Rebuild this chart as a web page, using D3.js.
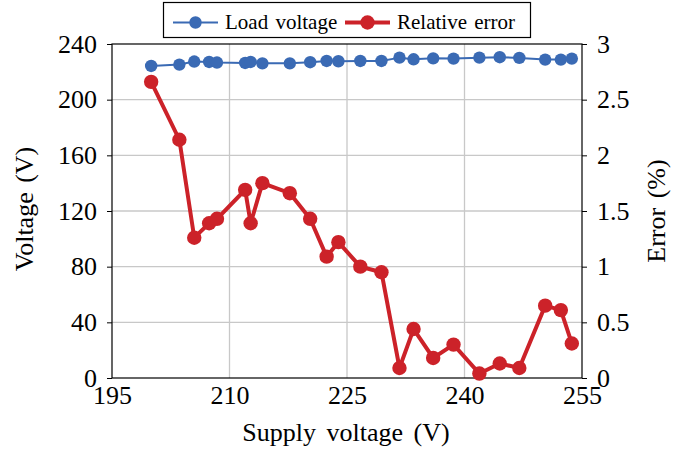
<!DOCTYPE html>
<html><head><meta charset="utf-8">
<script src="https://cdn.jsdelivr.net/npm/d3@7"></script>
</head><body style="margin:0"><svg id="c" width="691" height="453" font-family="Liberation Serif"></svg>
<script>
const supply = [200.0,203.6,205.5,207.4,208.4,212.0,212.7,214.2,217.7,220.3,222.4,223.9,226.7,229.4,231.7,233.5,236.0,238.6,241.9,244.5,247.0,250.3,252.3,253.7];
const loadVoltage = [224.2,225.2,227.4,227.1,226.7,226.4,227.1,226.1,226.1,226.9,227.8,227.6,227.8,227.8,230.2,229.0,229.7,229.5,230.2,230.5,230.0,228.8,228.8,229.5];
const relError = [2.66,2.14,1.26,1.39,1.43,1.69,1.39,1.75,1.66,1.43,1.09,1.22,1.00,0.95,0.09,0.44,0.18,0.30,0.04,0.13,0.09,0.65,0.61,0.31];
const xTicks = [195,210,225,240,255];
const yLeftTicks = [0,40,80,120,160,200,240];
const yRightTicks = [0,0.5,1,1.5,2,2.5,3];
const seriesNames = ["Load voltage","Relative error"];
const colors = ["#3a6ab4","#cc2229"];
const FONT = "Liberation Serif";

const svg = d3.select("#c");
const L=112, R=582, T=44, B=378;
const x = d3.scaleLinear().domain([195,255]).range([L,R]);
const yL = d3.scaleLinear().domain([0,240]).range([B,T]);
const yR = d3.scaleLinear().domain([0,3]).range([B,T]);

// grid
const g = svg.append("g");
g.selectAll(".vg").data(xTicks.slice(1,-1)).enter().append("line")
 .attr("x1",d=>x(d)).attr("x2",d=>x(d)).attr("y1",T).attr("y2",B)
 .attr("stroke","#c8c8c8").attr("stroke-width",1.3);
g.selectAll(".hg").data(yLeftTicks.slice(1,-1)).enter().append("line")
 .attr("x1",L).attr("x2",R).attr("y1",d=>yL(d)).attr("y2",d=>yL(d))
 .attr("stroke","#c8c8c8").attr("stroke-width",1.3);

// axes
const fs = 26;
const ax = svg.append("g").attr("transform",`translate(0,${B})`)
 .call(d3.axisBottom(x).tickValues(xTicks).tickSize(0).tickPadding(8));
const ayl = svg.append("g").attr("transform",`translate(${L},0)`)
 .call(d3.axisLeft(yL).tickValues(yLeftTicks).tickSize(5).tickPadding(10));
const ayr = svg.append("g").attr("transform",`translate(${R},0)`)
 .call(d3.axisRight(yR).tickValues(yRightTicks).tickFormat(d3.format("")).tickSize(5).tickPadding(10));
[ax,ayl,ayr].forEach(a=>{
  a.attr("font-family",FONT).attr("font-size",fs);
  a.select(".domain").remove();
  a.selectAll("text").attr("fill","#000");
  a.selectAll("line").attr("stroke","#000");
});
// frame
svg.append("rect").attr("x",L).attr("y",T).attr("width",R-L).attr("height",B-T)
 .attr("fill","none").attr("stroke","#000").attr("stroke-width",1.2);

// axis titles
svg.append("text").attr("x",346).attr("y",441).attr("text-anchor","middle").attr("font-family",FONT).attr("font-size",fs).attr("word-spacing",4).text("Supply voltage (V)");
svg.append("text").attr("transform","translate(33,209) rotate(-90)").attr("text-anchor","middle").attr("font-family",FONT).attr("font-size",fs).attr("word-spacing",3).text("Voltage (V)");
svg.append("text").attr("transform","translate(665,211) rotate(-90)").attr("text-anchor","middle").attr("font-family",FONT).attr("font-size",fs).attr("word-spacing",3).text("Error (%)");

// series
const blue = supply.map((s,i)=>[s,loadVoltage[i]]);
const red = supply.map((s,i)=>[s,relError[i]]);
svg.append("path").datum(blue).attr("fill","none").attr("stroke",colors[0]).attr("stroke-width",2)
 .attr("d",d3.line().x(d=>x(d[0])).y(d=>yL(d[1])));
svg.selectAll(".bp").data(blue).enter().append("circle")
 .attr("cx",d=>x(d[0])).attr("cy",d=>yL(d[1])).attr("r",6.2).attr("fill",colors[0]);
svg.append("path").datum(red).attr("fill","none").attr("stroke",colors[1]).attr("stroke-width",4)
 .attr("d",d3.line().x(d=>x(d[0])).y(d=>yR(d[1])));
svg.selectAll(".rp").data(red).enter().append("circle")
 .attr("cx",d=>x(d[0])).attr("cy",d=>yR(d[1])).attr("r",7.2).attr("fill",colors[1]);

// legend
const lg = svg.append("g");
lg.append("rect").attr("x",163.5).attr("y",2.5).attr("width",367).attr("height",35).attr("fill","#fff").attr("stroke","#000").attr("stroke-width",1.2);
const items = [{x0:173,tx:225,w:2,r:6.2},{x0:345,tx:397,w:4,r:7.2}];
items.forEach((it,i)=>{
  lg.append("line").attr("x1",it.x0).attr("x2",it.x0+45).attr("y1",22.5).attr("y2",22.5).attr("stroke",colors[i]).attr("stroke-width",it.w);
  lg.append("circle").attr("cx",it.x0+22.5).attr("cy",22.5).attr("r",it.r).attr("fill",colors[i]);
  lg.append("text").attr("x",it.tx).attr("y",29).attr("font-family",FONT).attr("font-size",21).attr("word-spacing",2).text(seriesNames[i]);
});
</script></body></html>
